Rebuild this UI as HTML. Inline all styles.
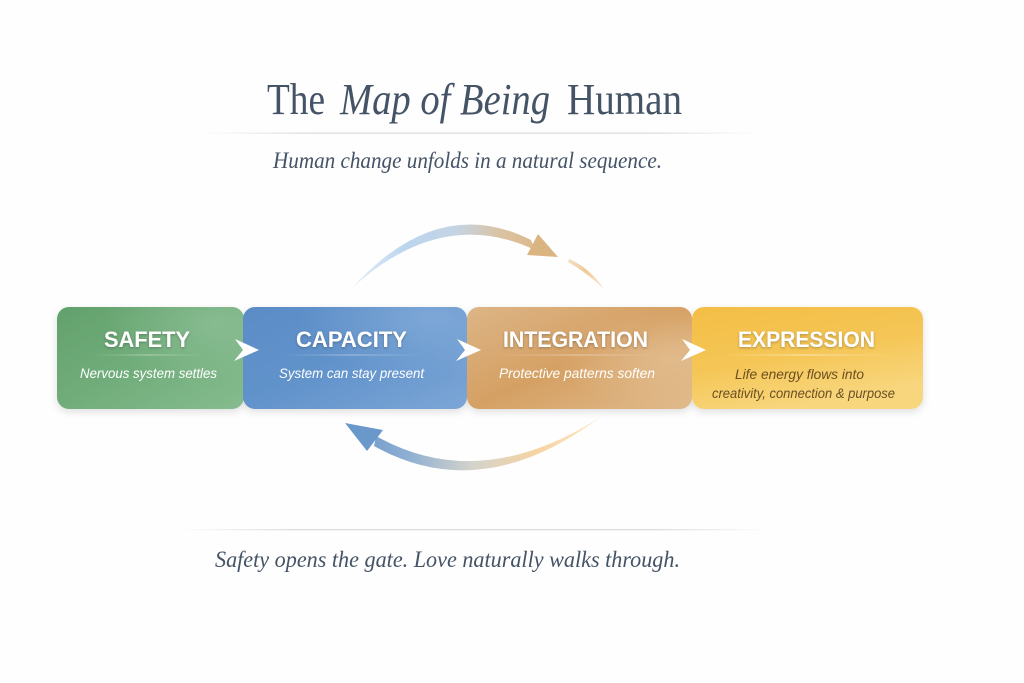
<!DOCTYPE html>
<html>
<head>
<meta charset="utf-8">
<style>
  html,body{margin:0;padding:0;background:#fefefe;}
  svg{display:block;}
  .ti{font-family:"Liberation Serif",serif;fill:#445366;}
  .lb{font-family:"Liberation Sans",sans-serif;font-weight:bold;fill:#ffffff;font-size:22px;}
  .sb{font-family:"Liberation Sans",sans-serif;font-style:italic;fill:#ffffff;font-size:14px;}
</style>
</head>
<body>
<svg width="1024" height="683" viewBox="0 0 1024 683" xmlns="http://www.w3.org/2000/svg">
<defs>
  <filter id="sh" x="-10%" y="-20%" width="120%" height="150%">
    <feDropShadow dx="0" dy="3" stdDeviation="4" flood-color="#000" flood-opacity="0.12"/>
  </filter>
  <filter id="ts" x="-10%" y="-30%" width="120%" height="170%">
    <feDropShadow dx="0" dy="1" stdDeviation="1.2" flood-color="#2a2a2a" flood-opacity="0.35"/>
  </filter>
  <linearGradient id="gSafe" x1="0" y1="0" x2="1" y2="1">
    <stop offset="0" stop-color="#62a16c"/>
    <stop offset="0.5" stop-color="#71ad7b"/>
    <stop offset="1" stop-color="#86bc8f"/>
  </linearGradient>
  <radialGradient id="hSafe" cx="0.85" cy="0.15" r="0.6">
    <stop offset="0" stop-color="#9dcaa5" stop-opacity="0.5"/>
    <stop offset="1" stop-color="#9dcaa5" stop-opacity="0"/>
  </radialGradient>
  <linearGradient id="gCap" x1="0" y1="0" x2="1" y2="1">
    <stop offset="0" stop-color="#5b8cc6"/>
    <stop offset="0.5" stop-color="#6293cb"/>
    <stop offset="1" stop-color="#7ca6d7"/>
  </linearGradient>
  <radialGradient id="hCap" cx="0.85" cy="0.1" r="0.6">
    <stop offset="0" stop-color="#8fb5df" stop-opacity="0.6"/>
    <stop offset="1" stop-color="#8fb5df" stop-opacity="0"/>
  </radialGradient>
  <linearGradient id="gInt" x1="0" y1="0" x2="1" y2="1">
    <stop offset="0" stop-color="#ddb586"/>
    <stop offset="0.5" stop-color="#d5a063"/>
    <stop offset="1" stop-color="#e0ba8b"/>
  </linearGradient>
  <radialGradient id="hInt" cx="0.9" cy="0.5" r="0.5">
    <stop offset="0" stop-color="#e6c59c" stop-opacity="0.6"/>
    <stop offset="1" stop-color="#e6c59c" stop-opacity="0"/>
  </radialGradient>
  <linearGradient id="gExp" x1="0" y1="0" x2="0.4" y2="1">
    <stop offset="0" stop-color="#f3be45"/>
    <stop offset="0.55" stop-color="#f5c656"/>
    <stop offset="1" stop-color="#f8d67e"/>
  </linearGradient>
  <linearGradient id="dv" x1="0" y1="0" x2="1" y2="0">
    <stop offset="0" stop-color="#fff" stop-opacity="0"/>
    <stop offset="0.5" stop-color="#fff" stop-opacity="0.45"/>
    <stop offset="1" stop-color="#fff" stop-opacity="0"/>
  </linearGradient>
  <linearGradient id="dvE" x1="0" y1="0" x2="1" y2="0">
    <stop offset="0" stop-color="#fff" stop-opacity="0"/>
    <stop offset="0.5" stop-color="#fff" stop-opacity="0.6"/>
    <stop offset="1" stop-color="#fff" stop-opacity="0"/>
  </linearGradient>
  <linearGradient id="tl" x1="0" y1="0" x2="1" y2="0">
    <stop offset="0" stop-color="#dcdcdc" stop-opacity="0"/>
    <stop offset="0.2" stop-color="#dcdcdc" stop-opacity="1"/>
    <stop offset="0.8" stop-color="#dcdcdc" stop-opacity="1"/>
    <stop offset="1" stop-color="#dcdcdc" stop-opacity="0"/>
  </linearGradient>
  <linearGradient id="arcT" gradientUnits="userSpaceOnUse" x1="352" y1="0" x2="560" y2="0">
    <stop offset="0" stop-color="#c6dcf3" stop-opacity="0.5"/>
    <stop offset="0.25" stop-color="#bbd5ef"/>
    <stop offset="0.5" stop-color="#c4d4e4"/>
    <stop offset="0.72" stop-color="#dbc2a0"/>
    <stop offset="1" stop-color="#dbb580"/>
  </linearGradient>
  <linearGradient id="arcF" gradientUnits="userSpaceOnUse" x1="568" y1="0" x2="604" y2="0">
    <stop offset="0" stop-color="#eccba0" stop-opacity="0.6"/>
    <stop offset="0.5" stop-color="#f0c996"/>
    <stop offset="1" stop-color="#f3d3a6" stop-opacity="0.5"/>
  </linearGradient>
  <linearGradient id="arcB" gradientUnits="userSpaceOnUse" x1="346" y1="0" x2="600" y2="0">
    <stop offset="0" stop-color="#6695ca"/>
    <stop offset="0.25" stop-color="#90b0d2"/>
    <stop offset="0.5" stop-color="#d5d3cb"/>
    <stop offset="0.75" stop-color="#f6d3a2"/>
    <stop offset="1" stop-color="#fbd89e" stop-opacity="0.6"/>
  </linearGradient>
</defs>

<rect width="1024" height="683" fill="#fefefe"/>

<!-- Title -->
<text class="ti" x="267" y="114" font-size="44" textLength="58" lengthAdjust="spacingAndGlyphs">The</text>
<text class="ti" x="340" y="114" font-size="44" font-style="italic" textLength="210" lengthAdjust="spacingAndGlyphs">Map of Being</text>
<text class="ti" x="567" y="114" font-size="44" textLength="115" lengthAdjust="spacingAndGlyphs">Human</text>
<rect x="200" y="132.5" width="560" height="1.3" fill="url(#tl)"/>
<text class="ti" x="273" y="168" font-size="23" font-style="italic" textLength="389" lengthAdjust="spacingAndGlyphs">Human change unfolds in a natural sequence.</text>

<!-- Top arc -->
<path d="M352,288 Q438,193 531,240 L535,250 Q442,206 352,288 Z" fill="url(#arcT)"/>
<polygon points="538,234 558,257 527,255" fill="#dbb581"/>
<path d="M569,259 Q590,268 604,289 Q586,272 568,262 Z" fill="url(#arcF)"/>

<!-- Boxes -->
<g filter="url(#sh)">
  <rect x="57" y="307" width="187" height="102" rx="12" fill="url(#gSafe)"/>
  <rect x="57" y="307" width="187" height="102" rx="12" fill="url(#hSafe)"/>
  <rect x="243" y="307" width="224" height="102" rx="12" fill="url(#gCap)"/>
  <rect x="243" y="307" width="224" height="102" rx="12" fill="url(#hCap)"/>
  <rect x="467" y="307" width="225" height="102" rx="12" fill="url(#gInt)"/>
  <rect x="467" y="307" width="225" height="102" rx="12" fill="url(#hInt)"/>
  <rect x="692" y="307" width="231" height="102" rx="12" fill="url(#gExp)"/>
</g>

<!-- Chevrons -->
<polygon points="235,339 259,350 234,361 243,350" fill="#ffffff"/>
<polygon points="457,339 481,350 456,361 465,350" fill="#ffffff"/>
<polygon points="682,339 706,350 681,361 690,350" fill="#ffffff"/>

<!-- Labels -->
<g filter="url(#ts)">
  <text class="lb" x="104" y="347" textLength="86" lengthAdjust="spacingAndGlyphs">SAFETY</text>
  <text class="lb" x="296" y="347" textLength="111" lengthAdjust="spacingAndGlyphs">CAPACITY</text>
  <text class="lb" x="503" y="347" textLength="145" lengthAdjust="spacingAndGlyphs">INTEGRATION</text>
  <text class="lb" x="738" y="347" textLength="137" lengthAdjust="spacingAndGlyphs">EXPRESSION</text>
</g>
<rect x="92" y="354.5" width="112" height="1" fill="url(#dv)"/>
<rect x="282" y="354.5" width="140" height="1" fill="url(#dv)"/>
<rect x="495" y="354.5" width="164" height="1" fill="url(#dv)"/>
<rect x="720" y="354.5" width="172" height="1" fill="url(#dvE)"/>

<text class="sb" x="80" y="378" textLength="137" lengthAdjust="spacingAndGlyphs">Nervous system settles</text>
<text class="sb" x="279" y="378" textLength="145" lengthAdjust="spacingAndGlyphs">System can stay present</text>
<text class="sb" x="499" y="378" textLength="156" lengthAdjust="spacingAndGlyphs">Protective patterns soften</text>
<text class="sb" x="735" y="379" textLength="129" lengthAdjust="spacingAndGlyphs" style="fill:#6b4f22">Life energy flows into</text>
<text class="sb" x="712" y="398" textLength="183" lengthAdjust="spacingAndGlyphs" style="fill:#6b4f22">creativity, connection &amp; purpose</text>

<!-- Bottom arc -->
<path d="M599,418 Q481,506 374,446 L376,436 Q479,494 599,418 Z" fill="url(#arcB)"/>
<polygon points="345,423 383,430 367,451" fill="#6a98cb"/>

<!-- Bottom -->
<rect x="180" y="529" width="590" height="1.3" fill="url(#tl)"/>
<text class="ti" x="215" y="567" font-size="23" font-style="italic" textLength="465" lengthAdjust="spacingAndGlyphs">Safety opens the gate. Love naturally walks through.</text>
</svg>
</body>
</html>
